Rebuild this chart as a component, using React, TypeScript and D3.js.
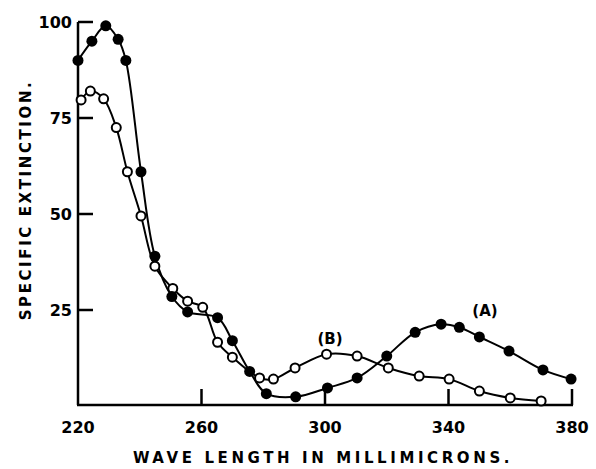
import React from "react";
import * as d3 from "d3";

// curve (A): filled circles
const wavelengthsA = [220, 224.5, 229, 233, 235.5, 240.4, 244.9, 250.4, 255.5, 265.2, 270, 275.6, 281, 290.5, 300.8, 310.4, 320, 329.2, 337.6, 343.5, 350, 359.6, 370.6, 379.7];
const extinctionA = [90, 95, 99, 95.5, 90, 61, 39, 28.5, 24.5, 23, 17, 9, 3.2, 2.4, 4.7, 7.3, 13, 19.2, 21.3, 20.5, 18, 14.3, 9.4, 7];

// curve (B): open circles
const wavelengthsB = [221, 224, 228.3, 232.4, 236, 240.4, 244.9, 250.7, 255.5, 260.4, 265.2, 270, 278.8, 283.3, 290.3, 300.5, 310.4, 320.5, 330.5, 340.2, 350, 360, 370];
const extinctionB = [79.7, 82, 80, 72.5, 61, 49.5, 36.4, 30.6, 27.3, 25.7, 16.6, 12.7, 7.3, 7, 9.9, 13.5, 13, 9.9, 7.8, 7, 3.9, 2.1, 1.3];

const xTicks = [220, 260, 300, 340, 380];
const yTicks = [25, 50, 75, 100];

const FONT = "'DejaVu Sans', sans-serif";

const App = () => {
  const width = 596;
  const height = 469;

  const x = d3.scaleLinear().domain([220, 380]).range([78, 572]);
  const y = d3.scaleLinear().domain([0, 100]).range([406, 22]);

  const ptsA = wavelengthsA.map((w, i) => [w, extinctionA[i]] as [number, number]);
  const ptsB = wavelengthsB.map((w, i) => [w, extinctionB[i]] as [number, number]);

  const lineGen = d3
    .line<[number, number]>()
    .x(d => x(d[0]))
    .y(d => y(d[1]))
    .curve(d3.curveCatmullRom.alpha(0.5));

  const x0 = x(220);
  const yBase = 405;

  return (
    <svg width={width} height={height} style={{ display: "block", position: "absolute", left: 0, top: 0, background: "#fff" }}>
      <rect width={width} height={height} fill="#fff" />

      {/* axes */}
      <line x1={x0} x2={x0} y1={y(100)} y2={yBase} stroke="#000" strokeWidth={2.5} />
      <line x1={x0 - 1} x2={x(380) + 1} y1={yBase} y2={yBase} stroke="#000" strokeWidth={2.5} />
      {yTicks.map(t => (
        <g key={"y" + t}>
          <line x1={x0} x2={x0 + 15} y1={y(t)} y2={y(t)} stroke="#000" strokeWidth={2.5} />
          <text x={72} y={y(t)} dy="0.36em" textAnchor="end" fontFamily={FONT} fontWeight="bold" fontSize={16}>
            {t}
          </text>
        </g>
      ))}
      {xTicks.map(t => (
        <g key={"x" + t}>
          {t > 220 && <line x1={x(t)} x2={x(t)} y1={yBase} y2={yBase - 16} stroke="#000" strokeWidth={2.5} />}
          <text x={x(t)} y={433} textAnchor="middle" fontFamily={FONT} fontWeight="bold" fontSize={16}>
            {t}
          </text>
        </g>
      ))}

      {/* axis titles */}
      <text
        x={323}
        y={463}
        textAnchor="middle"
        fontFamily={FONT}
        fontWeight="bold"
        fontSize={15}
        letterSpacing={3.6}
      >
        WAVE LENGTH IN MILLIMICRONS.
      </text>
      <text
        transform={`translate(31,${200}) rotate(-90)`}
        textAnchor="middle"
        fontFamily={FONT}
        fontWeight="bold"
        fontSize={15}
        letterSpacing={2.6}
      >
        SPECIFIC EXTINCTION.
      </text>

      {/* curves */}
      <path d={lineGen(ptsB) || ""} fill="none" stroke="#000" strokeWidth={2} />
      <path d={lineGen(ptsA) || ""} fill="none" stroke="#000" strokeWidth={2} />
      {ptsB.map((d, i) => (
        <circle key={"b" + i} cx={x(d[0])} cy={y(d[1])} r={4.5} fill="#fff" stroke="#000" strokeWidth={2} />
      ))}
      {ptsA.map((d, i) => (
        <circle key={"a" + i} cx={x(d[0])} cy={y(d[1])} r={5.5} fill="#000" />
      ))}

      {/* curve labels */}
      <text x={330} y={344} textAnchor="middle" fontFamily={FONT} fontWeight="bold" fontSize={15}>
        (B)
      </text>
      <text x={485} y={316} textAnchor="middle" fontFamily={FONT} fontWeight="bold" fontSize={15}>
        (A)
      </text>
    </svg>
  );
};

export default App;
